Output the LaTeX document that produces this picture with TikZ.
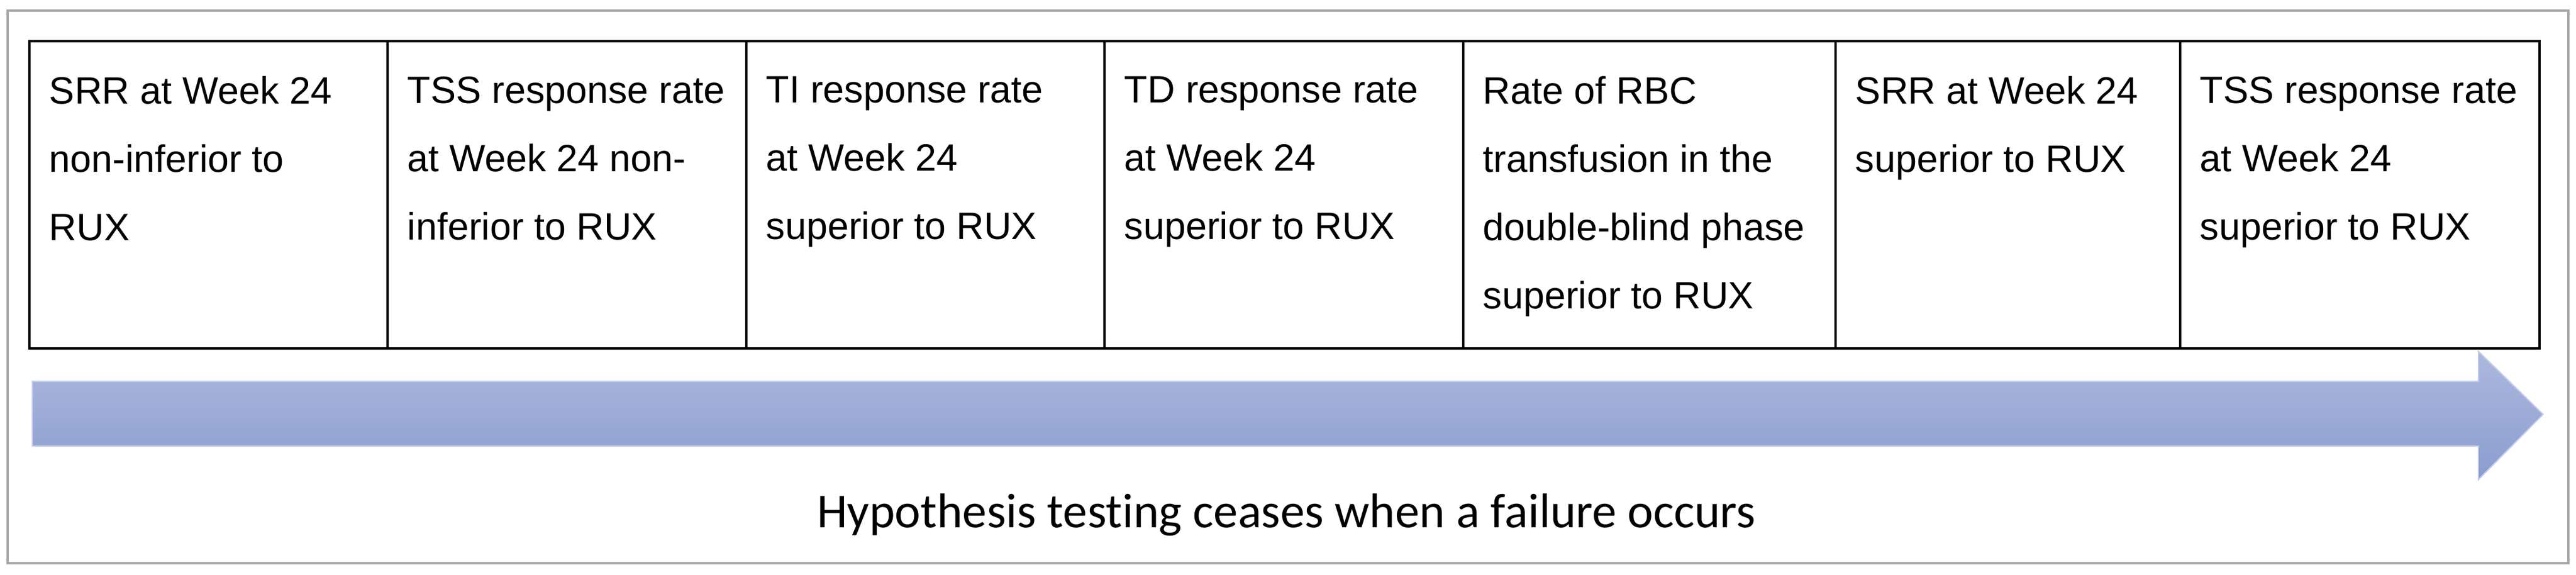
\documentclass[tikz,border=0pt]{standalone}
\usepackage{fontspec}
\setmainfont{Liberation Sans}
\newfontfamily\notefont[Ligatures=NoCommon]{Carlito}

\definecolor{frame color}{RGB}{166,166,166}
\definecolor{arrow top}{RGB}{174,184,221}
\definecolor{arrow bottom}{RGB}{137,157,208}
\definecolor{arrow edge}{RGB}{196,205,234}
\newcommand{\cellfont}{\fontsize{18.4}{33}\selectfont}

\begin{document}
\begin{tikzpicture}[line width=1.1pt,
	cell/.style={anchor=north west, inner sep=0pt, align=left, font=\cellfont}]
	\fill [white] (0,0) rectangle (43.8,9.77);
	\useasboundingbox (0,0) rectangle (43.8,9.77);
	\draw [frame color] (0.13,0.20) rectangle (43.67,9.59);

	\draw (0.50,3.85) rectangle (43.18,9.07);
    \foreach \x in {6.59,12.69,18.78,24.88,31.21,37.07}
    	\draw (\x,3.85) -- (\x,9.07);

    \node (srr) at (0.82,8.49) [cell] {SRR at Week 24\\non-inferior to\\RUX};
    \node (tss) at (6.91,8.49) [cell] {TSS response rate\\at Week 24 non-\\inferior to RUX};
    \node (ti) at (13.01,8.49) [cell] {TI response rate\\at Week 24\\superior to RUX};
    \node (td) at (19.10,8.49) [cell] {TD response rate\\at Week 24\\superior to RUX};
    \node (rbc) at (25.20,8.49) [cell] {Rate of RBC\\transfusion in the\\double-blind phase\\superior to RUX};
    \node (srr sup) at (31.53,8.49) [cell] {SRR at Week 24\\superior to RUX};
    \node (tss sup) at (37.39,8.49) [cell] {TSS response rate\\at Week 24\\superior to RUX};

    \path [top color=arrow top, bottom color=arrow bottom, draw=arrow edge, line width=.6pt]
    	(0.55,3.29) -- (42.14,3.29) -- (42.14,3.80) -- (43.24,2.73)
    	-- (42.14,1.62) -- (42.14,2.19) -- (0.55,2.19) -- cycle;

    \node (note) at (21.87,0.80) [anchor=base, font=\notefont\fontsize{23.6}{28}\selectfont] {Hypothesis testing ceases when a failure occurs};
\end{tikzpicture}
\end{document}
